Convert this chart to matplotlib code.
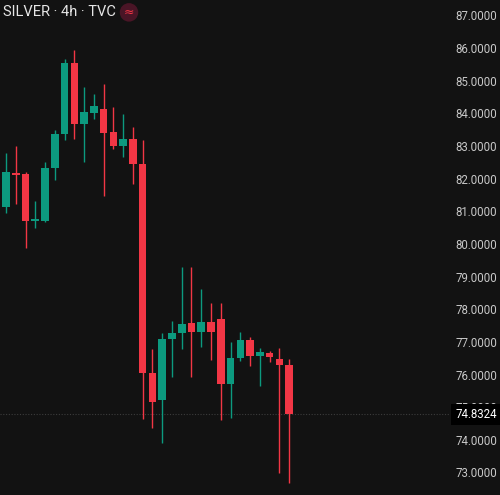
import matplotlib
matplotlib.use("Agg")
import matplotlib.pyplot as plt
import numpy as np

# 4h candles, first one is cut off by the left edge
opens  = [82.07, 81.18, 82.22, 82.19, 80.75, 80.75, 82.37, 83.42, 85.59, 83.72, 84.06,
          84.18, 83.48, 83.05, 83.26, 82.50, 76.09, 75.27, 77.13, 77.32, 77.62, 77.35,
          77.66, 77.75, 75.76, 76.55, 77.10, 76.61, 76.71, 76.52, 76.34]
highs  = [82.13, 82.83, 83.05, 82.25, 81.36, 82.56, 83.54, 85.71, 86.00, 84.86, 84.64,
          84.95, 84.24, 84.03, 83.63, 83.23, 76.83, 77.32, 77.69, 79.34, 79.34, 78.67,
          78.24, 78.24, 77.04, 77.35, 77.20, 76.86, 76.77, 76.86, 76.52]
lows   = [81.09, 80.99, 81.27, 79.92, 80.54, 80.72, 82.01, 83.23, 83.26, 82.56, 83.88,
          81.52, 82.96, 82.71, 81.88, 74.68, 74.41, 73.95, 75.97, 76.83, 75.97, 76.89,
          76.49, 74.65, 74.71, 76.46, 76.31, 75.69, 76.43, 73.03, 72.72]
closes = [81.18, 82.25, 82.16, 80.75, 80.81, 82.37, 83.42, 85.59, 83.72, 84.09, 84.27,
          83.45, 83.05, 83.26, 82.50, 76.09, 75.20, 77.13, 77.32, 77.59, 77.35, 77.66,
          77.35, 75.76, 76.55, 77.10, 76.61, 76.74, 76.58, 76.34, 74.8324]
last_price = 74.8324
price_ticks = [87, 86, 85, 84, 83, 82, 81, 80, 79, 78, 77, 76, 75, 74, 73]

bg = "#121212"
up = "#0c9a7f"
down = "#f23645"
txt = "#c8c8c8"

fig = plt.figure(figsize=(5.0, 4.95), dpi=100, facecolor=bg)
ax = fig.add_axes([0, 0, 1, 1])
ax.set_facecolor(bg)

x = np.arange(len(opens)) - 1
o = np.array(opens); c = np.array(closes)
cols = [up if cc >= oo else down for oo, cc in zip(o, c)]
bottoms = np.minimum(o, c)
heights = np.maximum(np.abs(c - o), 0.04)

ax.vlines(x, lows, highs, colors=cols, linewidth=1.0, zorder=2)
ax.bar(x, heights, bottom=bottoms, width=0.78, color=cols, linewidth=0, zorder=3)

# current price dotted line
ax.axhline(last_price, xmin=0, xmax=0.9, color="#3c3c3c", linewidth=0.8,
           linestyle=(0, (1, 1.5)), zorder=1)

ax.set_xlim(-0.615, 50.6)
ax.set_ylim(87 - 478 / 32.64, 87 + 17 / 32.64)
ax.axis("off")

for p in price_ticks:
    ax.text(0.994, p, "%.4f" % p, transform=ax.get_yaxis_transform(),
            ha="right", va="center", color=txt, fontsize=8.3, family="Roboto")

# last price box sits on top of the 75 label, like the original
ax.text(0.994, last_price, "%.4f" % last_price, transform=ax.get_yaxis_transform(),
        ha="right", va="center", color="#ffffff", fontsize=8.3, family="Roboto", zorder=5,
        bbox=dict(boxstyle="square,pad=0.35", fc="#000000", ec="none"))

fig.text(0.006, 0.975, "SILVER · 4h · TVC", color="#e6e6e6", fontsize=10.5,
         family="Roboto", ha="left", va="center")
fig.text(0.258, 0.975, "≈", color="#f23645", fontsize=9, family="DejaVu Sans",
         ha="center", va="center",
         bbox=dict(boxstyle="circle,pad=0.22", fc="#4a1526", ec="none"))

plt.savefig("out.png", dpi=100, facecolor=bg)
